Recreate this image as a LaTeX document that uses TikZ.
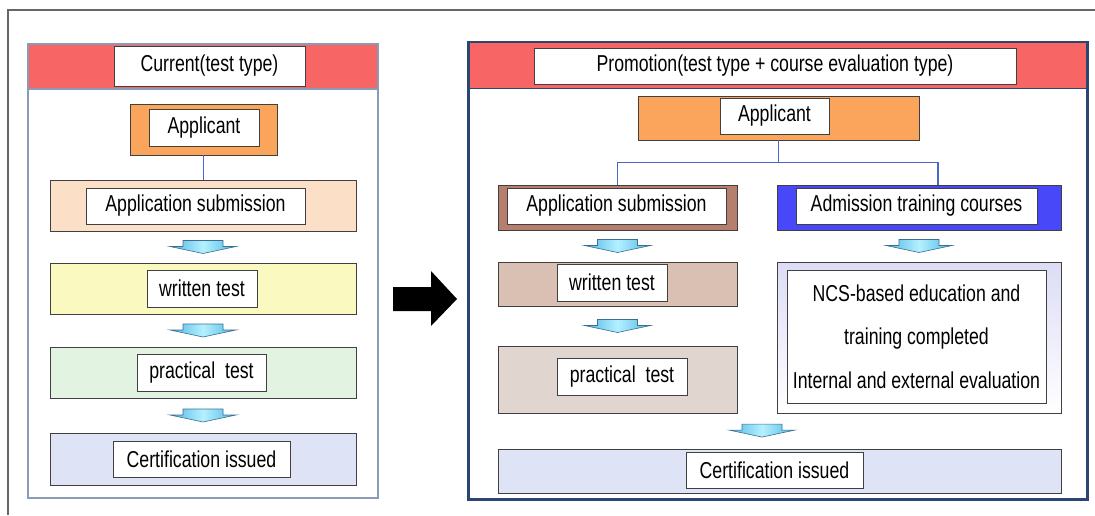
\documentclass[tikz,border=0pt]{standalone}
\usepackage{fontspec}
\setmainfont{Liberation Sans}[FakeStretch=0.77]
\usetikzlibrary{positioning,calc}
\definecolor{hdr}{HTML}{F76565}
\definecolor{appl}{HTML}{FBA45C}
\definecolor{peach}{HTML}{FCDFC7}
\definecolor{wrt}{HTML}{FAF9C0}
\definecolor{prc}{HTML}{E3F3E1}
\definecolor{cert}{HTML}{DFE3F6}
\definecolor{subm}{HTML}{B67F6D}
\definecolor{admi}{HTML}{4848F8}
\definecolor{wrtb}{HTML}{DABFB3}
\definecolor{prcb}{HTML}{E1D5D0}
\definecolor{ncs}{HTML}{DCDCF6}
\definecolor{lborder}{HTML}{8A9BB8}
\definecolor{rborder}{HTML}{2B4670}
\definecolor{linkc}{HTML}{4A66CC}
\definecolor{arrowblue}{HTML}{4FB6E4}
\definecolor{arrowlight}{HTML}{B4F0FF}
\definecolor{arrowline}{HTML}{3A6F8F}
\tikzset{flowarrow/.pic={\draw[arrowline,line width=.6,left color=arrowblue,right color=arrowblue,middle color=arrowlight]
  (-20,-6.5) -- (20,-6.5) -- (20,-.5) -- (33,-.5) -- (0,6.5) -- (-33,-.5) -- (-20,-.5) -- cycle;}}

\begin{document}
\begin{tikzpicture}[x=1pt,y=-1pt,font=\fontsize{23}{27}\selectfont,
    panel/.style={draw,fill=white,inner sep=0},
    band/.style={draw,fill=hdr,inner sep=0},
    box/.style={draw=black!75,line width=.9,inner sep=0},
    tag/.style={box,fill=white},
    link/.style={linkc,line width=1.3}]
        \useasboundingbox (0,0) rectangle (1095,515);
        \draw[black!60,line width=1.5] (8,515) -- (8,10) -- (1095,10);

        \node(lp)[panel,draw=lborder,line width=1.3,minimum width=350,minimum height=454] at (203,271) {};
        \node(lh)[band,draw=lborder,line width=1.3,minimum width=350,minimum height=45,below=0pt of lp.north] {};
        \node(lt)[tag,minimum width=191,minimum height=40] at (209.5,66) {Current(test type)};
        \node(la)[box,fill=appl,minimum width=147,minimum height=51] at (203.5,129.5) {};
        \node(lat)[tag,minimum width=110,minimum height=37] at (204,127.5) {Applicant};
        \node(ls)[box,fill=peach,minimum width=306,minimum height=51] at (203,205.5) {};
        \node(lst)[tag,minimum width=219,minimum height=36] at (195.5,206) {Application submission};
        \node(lw)[box,fill=wrt,minimum width=306,minimum height=51] at (203,288.5) {};
        \node(lwt)[tag,minimum width=110,minimum height=37] at (202,288.5) {written test};
        \node(lq)[box,fill=prc,minimum width=306,minimum height=51] at (203,372.5) {};
        \node(lqt)[tag,minimum width=129,minimum height=37] at (201.5,372.5) {practical~~test};
        \node(lc)[box,fill=cert,minimum width=306,minimum height=52] at (203,459) {};
        \node(lct)[tag,minimum width=177,minimum height=36] at (201.5,459) {Certification issued};
        \draw[link] (la.south) -- (la.south |- ls.north);
        \pic at ($(ls.south)!.5!(lw.north)$) {flowarrow};
        \pic at ($(lw.south)!.5!(lq.north)$) {flowarrow};
        \pic at ($(lq.south)!.5!(lc.north)$) {flowarrow};

        \fill (393,287) -- (431,287) -- (431,271) -- (457,299) -- (431,326) -- (431,311) -- (393,311) -- cycle;

        \node(rp)[panel,draw=rborder,line width=2,minimum width=618,minimum height=456] at (778,271) {};
        \node(rh)[band,draw=rborder,line width=1.3,minimum width=618,minimum height=46,below=0pt of rp.north] {};
        \draw[rborder,line width=2] (rp.north west) rectangle (rp.south east);
        \node(rt)[tag,minimum width=482,minimum height=36] at (775,66) {Promotion(test type + course evaluation type)};
        \node(ra)[box,fill=appl,minimum width=281,minimum height=44] at (778.5,118) {};
        \node(rat)[tag,minimum width=109,minimum height=36] at (774.5,116) {Applicant};
        \node(rs)[box,fill=subm,minimum width=239,minimum height=45] at (617.5,207.5) {};
        \node(rst)[tag,minimum width=219,minimum height=36] at (616.5,206) {Application submission};
        \node(rc)[box,fill=admi,minimum width=284,minimum height=45] at (919,207.5) {};
        \node(rct)[tag,minimum width=241,minimum height=36] at (916.5,206) {Admission training courses};
        \node(rw)[box,fill=wrtb,minimum width=239,minimum height=44] at (617.5,284) {};
        \node(rwt)[tag,minimum width=110,minimum height=37] at (612,282.5) {written test};
        \node(rq)[box,fill=prcb,minimum width=239,minimum height=67] at (617.5,379.5) {};
        \node(rqt)[tag,minimum width=130,minimum height=37] at (622,376.5) {practical~~test};
        \node(rn)[box,top color=ncs,middle color=white,bottom color=white,minimum width=284,minimum height=151] at (919,337.5) {};
        \node(rnt)[tag,align=center,font=\fontsize{23}{43.5}\selectfont,minimum width=259,minimum height=133] at (916.5,336.5)
          {NCS-based education and\\training completed\\Internal and external evaluation};
        \node(rf)[box,fill=cert,minimum width=563,minimum height=44] at (779.5,471) {};
        \node(rft)[tag,minimum width=177,minimum height=36] at (774.5,470) {Certification issued};
        \coordinate(rj) at ($(rc.north)+(19,0)$);
        \draw[link] (ra.south) -- ++(0,22) -| (rs.north);
        \draw[link] (ra.south) ++(0,22) -| (rj);
        \pic at ($(rs.south)!.5!(rw.north)$) {flowarrow};
        \pic at ($(rc.south)!.5!(rn.north)$) {flowarrow};
        \pic at ($(rw.south)!.5!(rq.north)$) {flowarrow};
        \pic at ($(rf.north)+(-17.5,-18)$) {flowarrow};
      \end{tikzpicture}
\end{document}
